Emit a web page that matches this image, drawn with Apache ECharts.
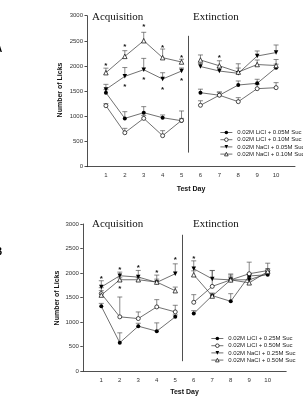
<!DOCTYPE html>
<html><head><meta charset="utf-8">
<script src="https://cdn.jsdelivr.net/npm/echarts@6/dist/echarts.min.js"></script>
<style>html,body{margin:0;padding:0;background:#fff}#c{width:303px;height:397px}</style>
</head><body><div id="c"></div><script>
// ---------- data ----------
const days = [1, 2, 3, 4, 5, 6, 7, 8, 9, 10];
const yTickStep = 500;

// Panel A
const namesA = ['0.02M LiCl + 0.05M Suc', '0.02M LiCl + 0.10M Suc', '0.02M NaCl + 0.05M Suc', '0.02M NaCl + 0.10M Suc'];
const aLiCl005 = [1470, 960, 1073, 973, 914, 1470, 1420, 1623, 1657, 1967];
const aLiCl005Err = [60, 133, 120, 55, 193, 70, 65, 80, 80, 70];
const aLiCl010 = [1212, 675, 960, 616, 920, 1220, 1420, 1292, 1550, 1570];
const aLiCl010Err = [40, 87, 60, 100, 40, 90, 60, 80, 80, 100];
const aNaCl005 = [1536, 1795, 1927, 1742, 1901, 1990, 1901, 1855, 2199, 2268];
const aNaCl005Err = [100, 175, 225, 125, 60, 60, 70, 190, 100, 150];
const aNaCl010 = [1868, 2192, 2503, 2166, 2080, 2120, 2005, 1880, 2030, 2010];
const aNaCl010Err = [90, 113, 167, 172, 55, 100, 100, 80, 90, 120];
const aStarDays = [1, 2, 3, 4, 5, 7, 2, 3, 4, 5];
const aStarVals = [2035, 2418, 2829, 2404, 2199, 2199, 1637, 1776, 1558, 1737];

// Panel B
const namesB = ['0.02M LiCl + 0.25M Suc', '0.02M LiCl + 0.50M Suc', '0.02M NaCl + 0.25M Suc', '0.02M NaCl + 0.50M Suc'];
const bLiCl025 = [1320, 577, 914, 813, 1105, 1172, 1538, 1422, 1940, 1964];
const bLiCl025Err = [60, 202, 60, 169, 40, 60, 40, 156, 40, 40];
const bLiCl050 = [1580, 1105, 1070, 1308, 1206, 1402, 1727, 1860, 1985, 2050];
const bLiCl050Err = [120, 405, 135, 148, 135, 156, 325, 120, 236, 150];
const bNaCl025 = [1714, 1944, 1917, 1808, 1985, 2086, 1880, 1860, 1862, 1985];
const bNaCl025Err = [128, 74, 135, 149, 202, 162, 170, 100, 110, 60];
const bNaCl050 = [1550, 1862, 1862, 1815, 1639, 1964, 1530, 1860, 1800, 2030];
const bNaCl050Err = [90, 40, 40, 60, 74, 80, 60, 60, 60, 60];
const bStarDays = [1, 2, 3, 4, 5, 6, 2];
const bStarVals = [1915, 2110, 2147, 2045, 2316, 2336, 1714];

// divider between phases: [x, yFrom, yTo]
const dividerA = [5.38, 280, 2600];
const dividerB = [5.38, 200, 2780];

// ---------- helpers ----------
const SANS = 'Liberation Sans';
function lineData(vals) {
  const out = [];
  days.forEach((d, i) => { if (d === 6) out.push([5.5, '-']); out.push([d, vals[i]]); });
  return out;
}
const symbols = [
  { symbol: 'circle', rot: 0, size: 4, fill: '#000', bw: 0 },
  { symbol: 'circle', rot: 0, size: 4, fill: '#fff', bw: 0.7 },
  { symbol: 'triangle', rot: 180, size: 4.5, fill: '#000', bw: 0 },
  { symbol: 'triangle', rot: 0, size: 4.5, fill: '#fff', bw: 0.7 }
];
function lineSeries(idx, name, vals, k, divider) {
  const sy = symbols[k];
  const s = {
    type: 'line', name: name, xAxisIndex: idx, yAxisIndex: idx,
    data: lineData(vals), symbol: sy.symbol, symbolSize: sy.size,
    symbolRotate: sy.rot, showAllSymbol: true, connectNulls: false,
    itemStyle: { color: sy.fill, borderColor: '#000', borderWidth: sy.bw },
    lineStyle: { color: '#333', width: 0.7 }, z: 3, animation: false
  };
  if (divider) {
    s.markLine = {
      symbol: 'none', silent: true, label: { show: false },
      lineStyle: { color: '#222', width: 0.8, type: 'solid' },
      data: [[{ coord: [divider[0], divider[1]] }, { coord: [divider[0], divider[2]] }]]
    };
  }
  return s;
}
function errSeries(idx, vals, errs) {
  return {
    type: 'custom', xAxisIndex: idx, yAxisIndex: idx, silent: true, z: 2, animation: false,
    encode: { x: 0, y: [1, 2] },
    data: days.map((d, i) => [d, vals[i], vals[i] + errs[i]]),
    renderItem(params, api) {
      const p0 = api.coord([api.value(0), api.value(1)]);
      const p1 = api.coord([api.value(0), api.value(2)]);
      const hw = 2.5;
      return { type: 'group', children: [
        { type: 'line', shape: { x1: p0[0], y1: p0[1], x2: p1[0], y2: p1[1] }, style: { stroke: '#555', lineWidth: 0.7 } },
        { type: 'line', shape: { x1: p1[0] - hw, y1: p1[1], x2: p1[0] + hw, y2: p1[1] }, style: { stroke: '#555', lineWidth: 0.7 } }
      ] };
    }
  };
}
function starSeries(idx, xs, ys) {
  return {
    type: 'custom', xAxisIndex: idx, yAxisIndex: idx, silent: true, z: 4, animation: false,
    encode: { x: 0, y: 1 },
    data: xs.map((d, i) => [d, ys[i]]),
    renderItem(params, api) {
      const p = api.coord([api.value(0), api.value(1)]);
      return { type: 'text', x: p[0], y: p[1] + 2, style: { text: '*', fontSize: 8, fontFamily: SANS, fontWeight: 'bold', fill: '#111', align: 'center', verticalAlign: 'middle' } };
    }
  };
}
function xAxis(idx, gap) {
  return {
    type: 'value', gridIndex: idx, min: 0, max: 11, interval: 1,
    name: 'Test Day', nameLocation: 'middle', nameGap: gap,
    nameTextStyle: { fontFamily: SANS, fontWeight: 'bold', fontSize: 7, color: '#111' },
    axisLine: { show: true, onZero: false, lineStyle: { color: '#222', width: 0.8 } },
    axisTick: { show: false }, splitLine: { show: false },
    axisLabel: { fontFamily: SANS, fontSize: 6, color: '#333', margin: 6, showMaxLabel: false,
      formatter: v => (v >= 1 && v <= 10 ? String(v) : '') }
  };
}
function yAxis(idx) {
  return {
    type: 'value', gridIndex: idx, min: 0, max: 3000, interval: yTickStep,
    axisLine: { show: true, lineStyle: { color: '#222', width: 0.8 } },
    axisTick: { show: true, length: 2.5, lineStyle: { color: '#222', width: 0.8 } },
    splitLine: { show: false },
    axisLabel: { fontFamily: SANS, fontSize: 6, color: '#333', margin: 4, formatter: v => String(v) }
  };
}
function legendItems(names) {
  return names.map((n, k) => ({
    name: n,
    itemStyle: { color: symbols[k].fill, borderColor: '#000', borderWidth: symbols[k].bw }
  }));
}
const legendCommon = {
  orient: 'vertical', selectedMode: false, itemWidth: 12, itemHeight: 4.5, itemGap: 1.2,
  textStyle: { fontFamily: SANS, fontSize: 6, color: '#222' },
  lineStyle: { color: '#333', width: 0.7 }
};
function titleText(x, y, text) {
  return { type: 'text', x: x, y: y, rotation: Math.PI / 2,
    style: { text: text, font: 'bold 7px "Liberation Sans"', fill: '#111', align: 'center', verticalAlign: 'middle' } };
}

const series = [
  errSeries(0, aLiCl005, aLiCl005Err), errSeries(0, aLiCl010, aLiCl010Err),
  errSeries(0, aNaCl005, aNaCl005Err), errSeries(0, aNaCl010, aNaCl010Err),
  lineSeries(0, namesA[0], aLiCl005, 0, dividerA), lineSeries(0, namesA[1], aLiCl010, 1),
  lineSeries(0, namesA[2], aNaCl005, 2), lineSeries(0, namesA[3], aNaCl010, 3),
  starSeries(0, aStarDays, aStarVals),
  errSeries(1, bLiCl025, bLiCl025Err), errSeries(1, bLiCl050, bLiCl050Err),
  errSeries(1, bNaCl025, bNaCl025Err), errSeries(1, bNaCl050, bNaCl050Err),
  lineSeries(1, namesB[0], bLiCl025, 0, dividerB), lineSeries(1, namesB[1], bLiCl050, 1),
  lineSeries(1, namesB[2], bNaCl025, 2), lineSeries(1, namesB[3], bNaCl050, 3),
  starSeries(1, bStarDays, bStarVals)
];

const chart = echarts.init(document.getElementById('c'), null, { renderer: 'canvas' });
chart.setOption({
  backgroundColor: '#fff',
  animation: false,
  grid: [
    { left: 87, top: 15.7, width: 208, height: 151 },
    { left: 82.8, top: 224, width: 203.4, height: 147.7 }
  ],
  xAxis: [xAxis(0, 19), xAxis(1, 18)],
  yAxis: [yAxis(0), yAxis(1)],
  legend: [
    Object.assign({ data: legendItems(namesA), left: 215, top: 124.5 }, legendCommon),
    Object.assign({ data: legendItems(namesB), left: 206, top: 330.5 }, legendCommon)
  ],
  graphic: [
    { type: 'text', left: 92, top: 11.5, style: { text: 'Acquisition', font: '11px "Liberation Serif"', fill: '#111' } },
    { type: 'text', left: 193, top: 11.5, style: { text: 'Extinction', font: '11px "Liberation Serif"', fill: '#111' } },
    { type: 'text', left: 92, top: 218.5, style: { text: 'Acquisition', font: '11px "Liberation Serif"', fill: '#111' } },
    { type: 'text', left: 193, top: 218.5, style: { text: 'Extinction', font: '11px "Liberation Serif"', fill: '#111' } },
    titleText(60, 90, 'Number of Licks'),
    titleText(56.7, 298, 'Number of Licks'),
    { type: 'text', x: -5, y: 44, style: { text: 'A', font: 'bold 10px "Liberation Sans"', fill: '#000' } },
    { type: 'text', x: -5, y: 247, style: { text: 'B', font: 'bold 10px "Liberation Sans"', fill: '#000' } }
  ],
  series: series
});
</script></body></html>
